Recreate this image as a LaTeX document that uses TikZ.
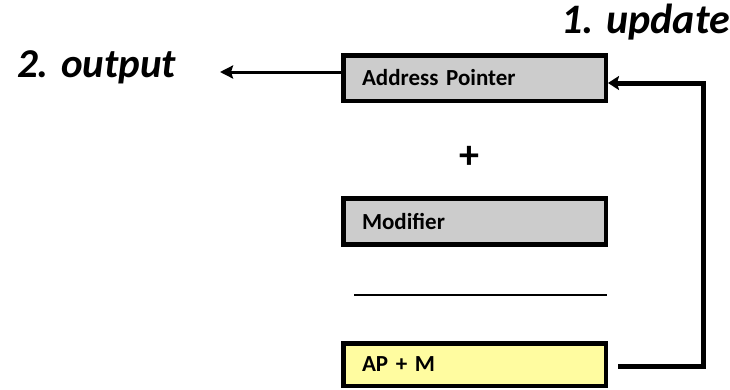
\documentclass[tikz,border=0pt]{standalone}
\usepackage{fontspec}
\setmainfont{Carlito}
\usetikzlibrary{arrows.meta}
\definecolor{boxgrey}{RGB}{204,204,204}
\definecolor{boxyellow}{RGB}{255,252,160}
\tikzset{
  regbox/.style={draw=black, line width=4.5pt, rectangle, minimum width=262.5pt,
    text width=225pt, align=left, inner xsep=18.75pt, inner ysep=0pt,
    font=\fontsize{23}{26}\selectfont\bfseries},
  biglabel/.style={font=\fontsize{41}{44}\selectfont\bfseries\itshape, inner sep=0pt},
  fbline/.style={line width=5pt, -{Stealth[length=11pt,width=14pt,inset=2pt]}},
  outline/.style={line width=3pt, -{Stealth[length=13pt,width=13pt,inset=2pt]}}
}
\begin{document}
\begin{tikzpicture}[x=1pt,y=-1pt]
\useasboundingbox (0,0) rectangle (730,389);
\node[regbox, fill=boxgrey, minimum height=45.5pt] (ap) at (474.5,78) {Address Pointer};
\node[regbox, fill=boxgrey, minimum height=46pt] (mod) at (474.5,221.5) {Modifier};
\node[regbox, fill=boxyellow, minimum height=42.5pt] (apm) at (474.5,364.5) {AP + M};
\node[font=\fontsize{40}{42}\selectfont\bfseries, inner sep=0pt] (plus) at (469,157) {+};
\coordinate (l1) at (354,295);
\coordinate (l2) at (607,295);
\draw[line width=2pt] (l1) -- (l2);
\node[biglabel, anchor=base west] (out) at (17,77) {2. output};
\node[biglabel, anchor=base west, font=\fontsize{42}{44}\selectfont\bfseries\itshape] (upd) at (561,33) {1. update};
\coordinate (c1) at (703,366);
\coordinate (c2) at (703,83);
\draw[fbline, shorten <=10pt] (c1 -| apm.east) -- (c1) -- (c2) -- (c2 -| ap.east);
\coordinate (otip) at (220,72);
\draw[outline] (otip -| ap.west) -- (otip);
\end{tikzpicture}
\end{document}
